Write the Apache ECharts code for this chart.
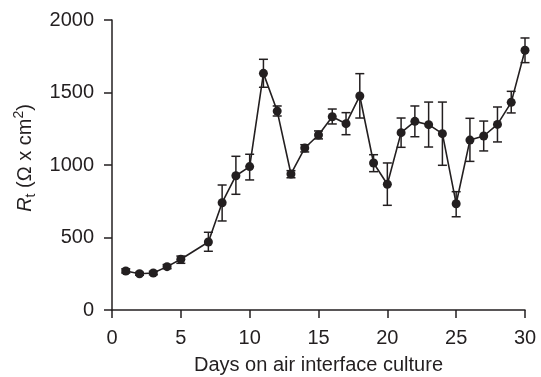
<!DOCTYPE html>
<html>
<head>
<meta charset="utf-8">
<script src="https://cdn.jsdelivr.net/npm/echarts@6/dist/echarts.min.js"></script>
<style>
  html, body { margin: 0; padding: 0; background: #fff; }
  #chart { width: 541px; height: 377px; }
</style>
</head>
<body>
<div id="chart"></div>
<script>
// days on air interface culture (day 6 has no measurement)
const days = [1, 2, 3, 4, 5, 7, 8, 9, 10, 11, 12, 13, 14, 15, 16, 17, 18, 19, 20, 21, 22, 23, 24, 25, 26, 27, 28, 29, 30];
// mean Rt (ohm x cm2)
const meanRt = [269, 250, 255, 299, 350, 469, 740, 926, 989, 1632, 1372, 938, 1117, 1207, 1333, 1285, 1476, 1014, 867, 1223, 1301, 1278, 1216, 733, 1172, 1200, 1280, 1432, 1791];
// error bar ends
const errLow = [255, 240, 243, 285, 322, 405, 614, 798, 897, 1536, 1338, 912, 1090, 1180, 1283, 1209, 1324, 954, 722, 1122, 1195, 1124, 998, 643, 1025, 1097, 1159, 1359, 1706];
const errHigh = [284, 260, 267, 313, 372, 536, 862, 1060, 1074, 1729, 1407, 961, 1140, 1235, 1386, 1361, 1630, 1071, 1014, 1324, 1407, 1434, 1434, 816, 1322, 1303, 1400, 1508, 1876];
const xTicks = [0, 5, 10, 15, 20, 25, 30];
const yTicks = [0, 500, 1000, 1500, 2000];

const ink = "#231f20";
const font = "'Liberation Sans', Arial, sans-serif";

const chart = echarts.init(document.getElementById("chart"));

const lineData = days.map((d, i) => [d, meanRt[i]]);
const errData = days.map((d, i) => [d, errLow[i], errHigh[i]]);

function renderErr(params, api) {
  const x = api.value(0);
  const lo = api.coord([x, api.value(1)]);
  const hi = api.coord([x, api.value(2)]);
  const cap = 4.5;
  const style = { stroke: ink, lineWidth: 1.5 };
  return {
    type: "group",
    children: [
      { type: "line", shape: { x1: lo[0], y1: lo[1], x2: hi[0], y2: hi[1] }, style: style },
      { type: "line", shape: { x1: lo[0] - cap, y1: lo[1], x2: lo[0] + cap, y2: lo[1] }, style: style },
      { type: "line", shape: { x1: hi[0] - cap, y1: hi[1], x2: hi[0] + cap, y2: hi[1] }, style: style },
    ],
  };
}

chart.setOption({
  animation: false,
  grid: { left: 112, right: 16, top: 20, bottom: 67, outerBoundsMode: "none" },
  xAxis: {
    type: "value",
    min: xTicks[0],
    max: xTicks[xTicks.length - 1],
    interval: 5,
    name: "Days on air interface culture",
    nameLocation: "middle",
    nameGap: 45,
    nameTextStyle: { color: ink, fontSize: 20, fontFamily: font },
    axisLine: { lineStyle: { color: ink, width: 1.5 } },
    axisTick: { length: 8, lineStyle: { color: ink, width: 1.5 } },
    axisLabel: { color: ink, fontSize: 20, fontFamily: font, margin: 18, formatter: (v) => String(v) },
    splitLine: { show: false },
  },
  yAxis: {
    type: "value",
    min: yTicks[0],
    max: yTicks[yTicks.length - 1],
    interval: 500,
    name: "{i|R}{s|t}{n| (Ω x cm}{p|2}{n|)}",
    nameLocation: "middle",
    nameRotate: 90,
    nameGap: 71,
    nameTextStyle: {
      color: ink,
      fontFamily: font,
      padding: [0, 0, 0, 14],
      rich: {
        i: { fontSize: 20, fontStyle: "italic", fontFamily: font, color: ink, lineHeight: 26, verticalAlign: "middle" },
        s: { fontSize: 14, fontFamily: font, color: ink, lineHeight: 26, verticalAlign: "bottom" },
        n: { fontSize: 20, fontFamily: font, color: ink, lineHeight: 26, verticalAlign: "middle" },
        p: { fontSize: 14, fontFamily: font, color: ink, lineHeight: 26, verticalAlign: "top" },
      },
    },
    axisLine: { show: true, lineStyle: { color: ink, width: 1.5 } },
    axisTick: { show: true, length: 8, lineStyle: { color: ink, width: 1.5 } },
    axisLabel: { color: ink, fontSize: 20, fontFamily: font, margin: 18, formatter: (v) => String(v) },
    splitLine: { show: false },
  },
  series: [
    {
      type: "custom",
      renderItem: renderErr,
      data: errData,
      encode: { x: 0, y: [1, 2] },
      z: 1,
    },
    {
      type: "line",
      data: lineData,
      symbol: "circle",
      symbolSize: 9,
      itemStyle: { color: ink },
      lineStyle: { color: ink, width: 1.6 },
      z: 2,
    },
  ],
});
</script>
</body>
</html>
